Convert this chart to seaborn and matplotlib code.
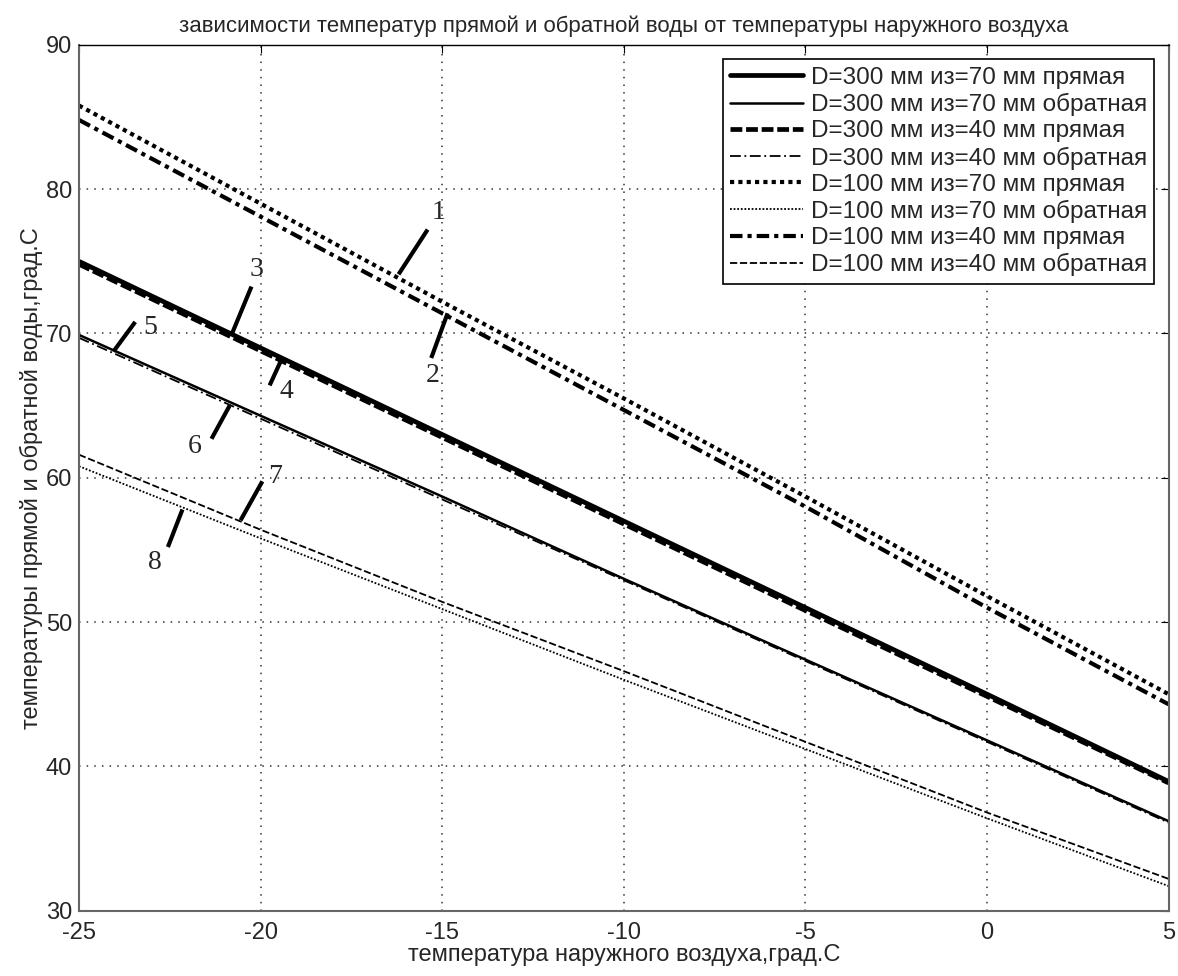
import numpy as np
import pandas as pd
import seaborn as sns
import matplotlib
matplotlib.use("Agg")
import matplotlib.pyplot as plt

# outdoor air temperature, deg C
t_out = [-25, -20, -15, -10, -5, 0, 5]

# supply / return water temperatures
d300_i70_supply = [75.0, 69.0, 63.0, 57.0, 51.0, 45.0, 38.95]
d300_i70_return = [69.9, 64.3, 58.7, 53.0, 47.4, 41.8, 36.2]
d300_i40_supply = [74.8, 68.8, 62.8, 56.8, 50.8, 44.85, 38.85]
d300_i40_return = [69.7, 64.1, 58.5, 52.9, 47.3, 41.7, 36.1]
d100_i70_supply = [85.8, 79.0, 72.2, 65.5, 58.7, 51.8, 45.0]
d100_i70_return = [60.8, 55.8, 50.9, 46.0, 41.2, 36.4, 31.7]
d100_i40_supply = [84.8, 78.1, 71.4, 64.7, 58.0, 51.0, 44.3]
d100_i40_return = [61.6, 56.4, 51.4, 46.6, 41.7, 36.8, 32.2]

series_names = ["D=300 мм из=70 мм прямая", "D=300 мм из=70 мм обратная",
                "D=300 мм из=40 мм прямая", "D=300 мм из=40 мм обратная",
                "D=100 мм из=70 мм прямая", "D=100 мм из=70 мм обратная",
                "D=100 мм из=40 мм прямая", "D=100 мм из=40 мм обратная"]
series_vals = [d300_i70_supply, d300_i70_return, d300_i40_supply, d300_i40_return,
               d100_i70_supply, d100_i70_return, d100_i40_supply, d100_i40_return]

# curve numbers: text position and pointer segment (data coords)
curve_labels = ["1", "2", "3", "4", "5", "6", "7", "8"]
label_xy = [(-15.1, 78.4), (-15.25, 67.1), (-20.1, 74.4), (-19.3, 66.0),
            (-23.05, 70.4), (-21.8, 62.2), (-19.6, 60.1), (-22.9, 54.1)]
pointer_seg = [((-15.4, 77.2), (-16.2, 74.1)), ((-14.85, 71.4), (-15.3, 68.3)),
               ((-20.25, 73.25), (-20.8, 69.9)), ((-19.45, 68.05), (-19.75, 66.4)),
               ((-23.45, 70.8), (-24.05, 68.75)), ((-20.85, 65.0), (-21.35, 62.7)),
               ((-19.95, 59.75), (-20.55, 57.05)), ((-22.15, 57.8), (-22.55, 55.2))]

styles = [dict(ls="-", lw=3.4), dict(ls="-", lw=1.8),
          dict(ls=(0, (2.5, 0.8)), lw=3.4), dict(ls=(0, (6, 2, 1, 2)), lw=1.3),
          dict(ls=(0, (1, 1)), lw=3.0), dict(ls=(0, (1, 1)), lw=1.3),
          dict(ls=(0, (3, 1.2, 1, 1.2)), lw=3.0), dict(ls=(0, (4, 1.5)), lw=1.3)]

sns.set_style("white")
plt.rcParams["font.family"] = ["Liberation Sans", "DejaVu Sans"]
plt.rcParams["axes.unicode_minus"] = False

fig = plt.figure(figsize=(11.78, 9.76), dpi=100)
ax = fig.add_axes([0.067, 0.067, 0.925, 0.887])

for name, vals, st in zip(series_names, series_vals, styles):
    df = pd.DataFrame({"t": t_out, "T": vals})
    sns.lineplot(data=df, x="t", y="T", ax=ax, color="black", label=name,
                 linestyle=st["ls"], linewidth=st["lw"])

for lab, (tx, ty), (p0, p1) in zip(curve_labels, label_xy, pointer_seg):
    ax.plot([p0[0], p1[0]], [p0[1], p1[1]], color="black", lw=3,
            solid_capstyle="butt")
    ax.text(tx, ty, lab, family="Liberation Serif", fontsize=20,
            ha="center", va="center")

ax.set_xlim(-25, 5)
ax.set_ylim(30, 90)
ax.set_xticks(np.arange(-25, 6, 5))
ax.set_yticks(np.arange(30, 91, 10))
ax.grid(True, color="#333333", linestyle=(0, (1, 4)), linewidth=1.1)
ax.tick_params(direction="in", length=6, labelsize=17, color="black",
               top=True, right=True, pad=5)
ax.tick_params(axis="x", pad=8)
for s in ax.spines.values():
    s.set_color("#666666")
    s.set_linewidth(1.5)
ax.spines["top"].set_color("black")
ax.spines["top"].set_linewidth(1)

ax.set_xlabel("температура наружного воздуха,град.С", fontsize=17, labelpad=0)
ax.set_ylabel("температуры прямой и обратной воды,град.С", fontsize=17, labelpad=2)
ax.set_title("зависимости температур прямой и обратной воды от температуры наружного воздуха",
             fontsize=16, pad=9)

leg = ax.legend(loc="upper right", fontsize=17.5, frameon=True, fancybox=False,
                edgecolor="black", framealpha=1, handlelength=3.0,
                labelspacing=0.17, borderaxespad=0.6, handletextpad=0.3,
                borderpad=0.3)
leg.get_frame().set_linewidth(1.2)

fig.savefig("out.png", dpi=100)
